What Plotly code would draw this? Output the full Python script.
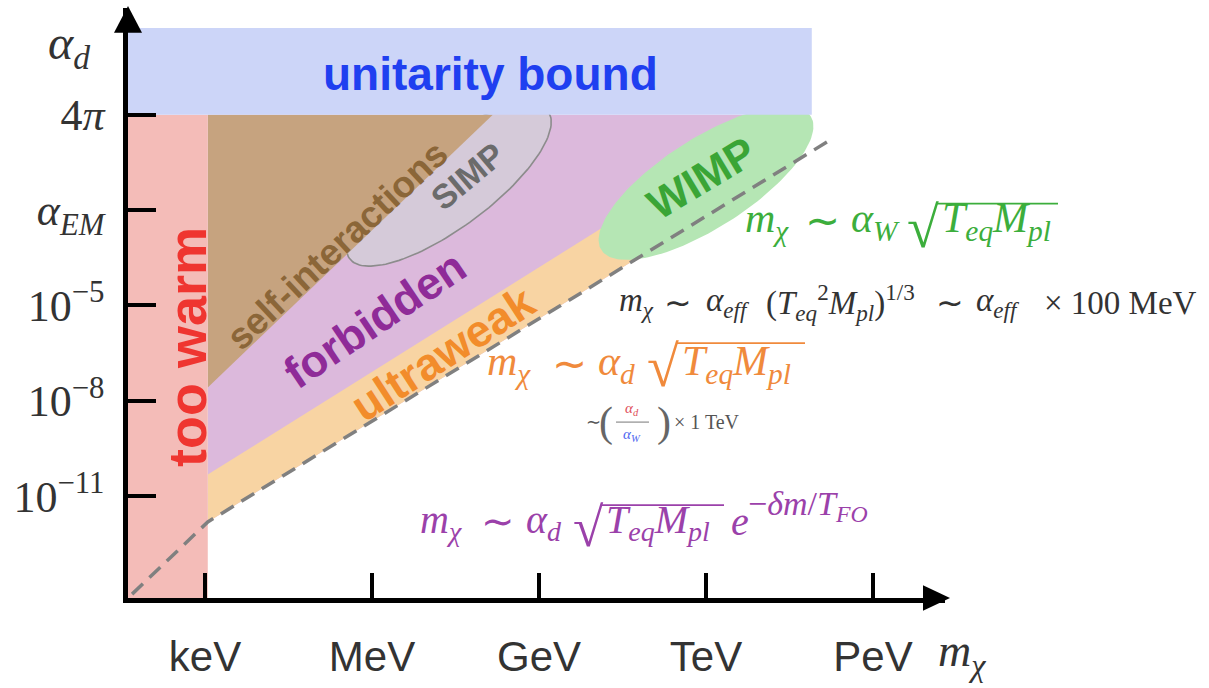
import numpy as np
import plotly.graph_objects as go

# ---------------------------------------------------------------------------
# Figure geometry (pixels) and axis ranges
# ---------------------------------------------------------------------------
FIG_W, FIG_H = 1209, 688
PLOT_L, PLOT_R, PLOT_T, PLOT_B = 128, 945, 8, 605

# x: log10(m_chi / eV);  y: schematic log10(alpha_d) (4pi sits at y = 1)
X_RANGE = [1.617, 16.293]
Y_RANGE = [-14.202, 4.356]

X_TICKS = [3, 6, 9, 12, 15]
X_TICK_TEXT = ["keV", "MeV", "GeV", "TeV", "PeV"]
Y_TICKS = [-11, -8, -5, -2, 1]
Y_TICK_TEXT = ["10<sup>−11</sup>", "10<sup>−8</sup>", "10<sup>−5</sup>",
               "<i>α</i><sub><i>EM</i></sub>", "4<i>π</i>"]

# ---------------------------------------------------------------------------
# Regions of the (m_chi, alpha_d) plane, in axis units
# ---------------------------------------------------------------------------
UNITARITY_X = [1.617, 13.90, 13.90, 1.617]
UNITARITY_Y = [1.0, 1.0, 3.73, 3.73]

TOO_WARM_X = [1.617, 3.05, 3.05, 1.617]
TOO_WARM_Y = [-14.202, -14.202, 1.0, 1.0]

SELF_INT_X = [3.05, 8.17, 3.05]
SELF_INT_Y = [1.0, 1.0, -7.58]

FORBIDDEN_X = [3.05, 13.38, 12.25, 3.05]
FORBIDDEN_Y = [1.0, 1.0, -1.92, -11.81]

ULTRAWEAK_X = [3.05, 12.25, 12.25, 3.05]
ULTRAWEAK_Y = [-10.32, -0.24, -1.92, -11.81]

# relic-abundance line (dashed)
RELIC_X = [1.69, 3.05, 14.19]
RELIC_Y = [-14.08, -11.81, 0.16]

# ellipses: centre in axis units, semi-axes in x-decades, tilt in degrees
SIMP_ELLIPSE = dict(cx=7.38, cy=-1.21, a=2.23, b=0.77, tilt=37)
WIMP_ELLIPSE = dict(cx=12.0, cy=-1.15, a=2.24, b=0.81, tilt=33)

# ---------------------------------------------------------------------------
KX = (PLOT_R - PLOT_L) / (X_RANGE[1] - X_RANGE[0])   # px per x unit
KY = (PLOT_B - PLOT_T) / (Y_RANGE[1] - Y_RANGE[0])   # px per y unit


def ellipse(cx, cy, a, b, tilt, n=160):
    t = np.linspace(0, 2 * np.pi, n)
    th = np.radians(tilt)
    u, v = a * np.cos(t), b * np.sin(t)
    dx = u * np.cos(th) - v * np.sin(th)
    dy = (u * np.sin(th) + v * np.cos(th)) * KX / KY
    return cx + dx, cy + dy


def px(x):
    return (x - PLOT_L) / (PLOT_R - PLOT_L)


def py(y):
    return (PLOT_B - y) / (PLOT_B - PLOT_T)


def region(xs, ys, color, line=None):
    return go.Scatter(x=list(xs) + [xs[0]], y=list(ys) + [ys[0]], mode="lines",
                      fill="toself", fillcolor=color,
                      line=line or dict(width=0, color=color),
                      hoverinfo="skip", showlegend=False)


fig = go.Figure()
fig.add_trace(region(FORBIDDEN_X, FORBIDDEN_Y, "#dcb9dc"))
fig.add_trace(region(ULTRAWEAK_X, ULTRAWEAK_Y, "#f8d4a3"))
sx, sy = ellipse(**SIMP_ELLIPSE)
fig.add_trace(region(sx, sy, "#d5cad9", line=dict(width=1.6, color="#8c8c8c")))
fig.add_trace(region(SELF_INT_X, SELF_INT_Y, "#c6a37f"))
wx, wy = ellipse(**WIMP_ELLIPSE)
fig.add_trace(region(wx, wy, "#b5e6b4"))
fig.add_trace(region(TOO_WARM_X, TOO_WARM_Y, "#f4bcb8"))
fig.add_trace(region(UNITARITY_X, UNITARITY_Y, "#ccd5f8"))
fig.add_trace(go.Scatter(x=RELIC_X, y=RELIC_Y, mode="lines",
                         line=dict(color="#808080", width=3.5, dash="15px,9px"),
                         hoverinfo="skip", showlegend=False))

SANS = "Liberation Sans, Arial, sans-serif"
SERIF = "Liberation Serif, Times New Roman, serif"

annotations = []
shapes = []


def text(t, x, y, size, color, family=SERIF, xanchor="center", angle=0, data=False):
    if data:
        xref, yref = "x", "y"
    else:
        xref, yref = "paper", "paper"
        x, y = px(x), py(y)
    annotations.append(dict(text=t, x=x, y=y, xref=xref, yref=yref, xanchor=xanchor,
                            yanchor="middle", showarrow=False, textangle=angle,
                            font=dict(family=family, size=size, color=color)))


# region labels (positioned in axis units)
region_labels = [
    ("<b>unitarity bound</b>", 8.12, 2.27, 0, 46, "#1f3ff0"),
    ("<b>too warm</b>", 2.68, -6.30, -90, 54, "#ef3530"),
    ("<b>self-interactions</b>", 5.37, -3.10, -43, 37, "#8b6638"),
    ("<b>SIMP</b>", 7.72, -0.93, -40, 34, "#6b6b6b"),
    ("<b>forbidden</b>", 6.05, -5.44, -34, 45, "#8f2b98"),
    ("<b>ultraweak</b>", 7.28, -6.52, -33, 45, "#f28c2b"),
    ("<b>WIMP</b>", 11.92, -1.00, -31, 43, "#3aa536"),
]
for t, x, y, ang, size, col in region_labels:
    text(t, x, y, size, col, family=SANS, angle=ang, data=True)

# ---------------------------------------------------------------------------
# formulas: pieces placed at their left edges, with a drawn radical bar
# ---------------------------------------------------------------------------
M_CHI = "<i>m</i><sub><i>χ</i></sub>"
RADICAND = "<i>T</i><sub><i>eq</i></sub><i>M</i><sub><i>pl</i></sub>"


def radical_formula(alpha, y, size, color, x_m, x_sim, x_alpha, x_root, bar_y, bar_x1):
    root_size = 1.38 * size
    text(M_CHI, x_m, y, size, color, xanchor="left")
    text("∼", x_sim, y, size, color, xanchor="left")
    text(alpha, x_alpha, y, size, color, xanchor="left")
    text("√", x_root, bar_y + 0.41 * root_size, root_size, color, xanchor="left")
    text(RADICAND, x_root + 0.6 * root_size, y, size, color, xanchor="left")
    shapes.append(dict(type="line", xref="paper", yref="paper",
                       x0=px(x_root + 0.55 * root_size), x1=px(bar_x1),
                       y0=py(bar_y), y1=py(bar_y),
                       line=dict(color=color, width=1.8)))


GREEN, ORANGE, PURPLE, GREY = "#3cae3c", "#f08a3c", "#9b41aa", "#333333"
radical_formula("<i>α</i><sub><i>W</i></sub>", 224, 42, GREEN, 743, 803, 849, 905, 206, 1058)
radical_formula("<i>α</i><sub><i>d</i></sub>", 368, 42, ORANGE, 485, 550, 596, 645, 347, 805)
radical_formula("<i>α</i><sub><i>d</i></sub>", 528, 40, PURPLE, 418, 479, 524, 571, 511, 724)
text("<i>e</i>", 729, 528, 40, PURPLE, xanchor="left")
text("−<i>δm</i>/<i>T</i><sub><i>FO</i></sub>", 746, 512, 34, PURPLE, xanchor="left")

# relic mass scale
ALPHA_EFF = "<i>α</i><sub><i>eff</i></sub>"
GY = 306
text(M_CHI, 617, GY, 33, GREY, xanchor="left")
text("∼", 662, GY, 33, GREY, xanchor="left")
text(ALPHA_EFF, 704, GY, 33, GREY, xanchor="left")
text("(<i>T</i><sub><i>eq</i></sub><sup>2</sup><i>M</i><sub><i>pl</i></sub>)<sup>1/3</sup>",
     764, GY, 33, GREY, xanchor="left")
text("∼", 934, GY, 33, GREY, xanchor="left")
text(ALPHA_EFF, 974, GY, 33, GREY, xanchor="left")
text("× 100 MeV", 1042, GY, 33, GREY, xanchor="left")

# ultraweak mass in units of TeV
text("∼", 584, 427, 18, "#555555", xanchor="left")
text("(", 597, 427, 42, "#666666", xanchor="left")
text(")", 655, 427, 42, "#666666", xanchor="left")
text("<i>α</i><sub><i>d</i></sub>", 632, 414, 15, "#e0505a")
text("<i>α</i><sub><i>W</i></sub>", 632, 440, 15, "#5068f0")
text("× 1 TeV", 672, 427, 20, "#555555", xanchor="left")
shapes.append(dict(type="line", xref="paper", yref="paper", x0=px(616), x1=px(649),
                   y0=py(427), y1=py(427), line=dict(color="#777777", width=1)))

# axis titles
text("<i>α</i><sub><i>d</i></sub>", 69, 46, 48, GREY)
text("<i>m</i><sub><i>χ</i></sub>", 962, 662, 46, GREY)

# arrow heads of the axes
shapes += [
    dict(type="path", xref="paper", yref="paper",
         path=f"M {px(128)} {py(6)} L {px(114)} {py(33)} L {px(142)} {py(33)} Z",
         fillcolor="black", line=dict(width=0)),
    dict(type="path", xref="paper", yref="paper",
         path=f"M {px(950)} {py(605)} L {px(923)} {py(592)} L {px(923)} {py(618)} Z",
         fillcolor="black", line=dict(width=0)),
]

fig.update_layout(
    width=FIG_W, height=FIG_H, autosize=False,
    margin=dict(l=PLOT_L, r=FIG_W - PLOT_R, t=PLOT_T, b=FIG_H - PLOT_B, pad=0),
    paper_bgcolor="white", plot_bgcolor="white",
    annotations=annotations, shapes=shapes, showlegend=False,
    xaxis=dict(range=X_RANGE, tickvals=X_TICKS, ticktext=X_TICK_TEXT,
               showgrid=False, zeroline=False, showline=True, linecolor="black",
               linewidth=4.5, ticks="inside", ticklen=25, tickwidth=4, tickcolor="black",
               ticklabelstandoff=18,
               tickfont=dict(family=SANS, size=42, color="#333333")),
    yaxis=dict(range=Y_RANGE, tickvals=Y_TICKS, ticktext=Y_TICK_TEXT,
               showgrid=False, zeroline=False, showline=True, linecolor="black",
               linewidth=4.5, ticks="inside", ticklen=28, tickwidth=4, tickcolor="black",
               ticklabelstandoff=10,
               tickfont=dict(family=SERIF, size=44, color="#333333")),
)

fig.write_html("out.html")
